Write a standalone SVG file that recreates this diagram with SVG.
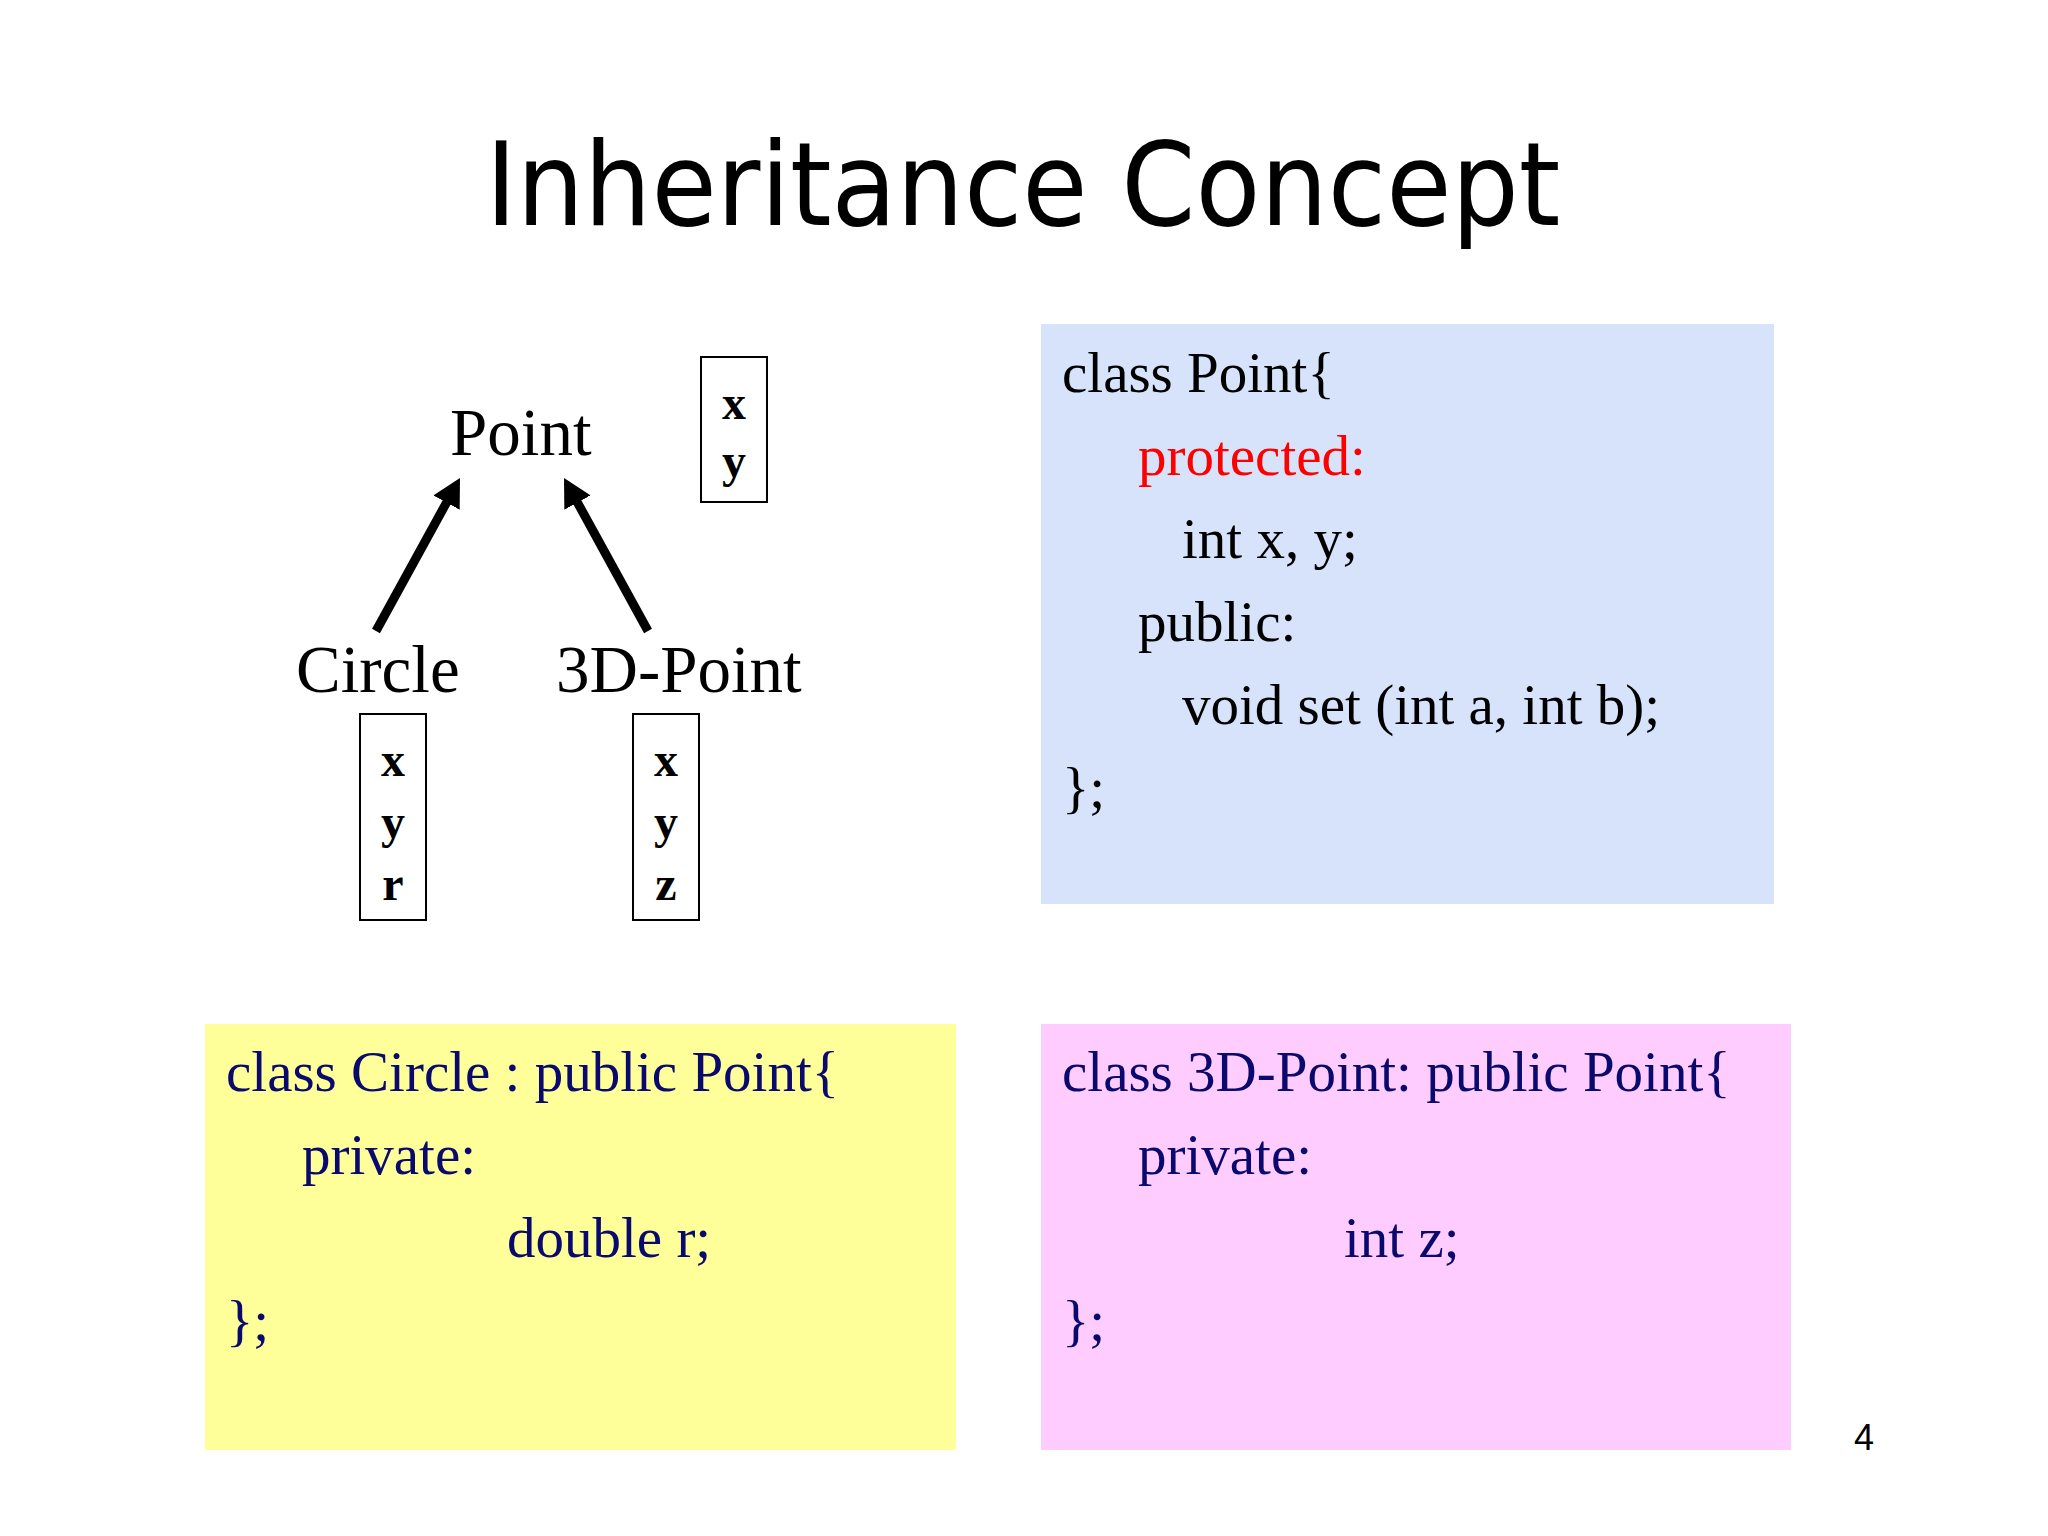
<svg xmlns="http://www.w3.org/2000/svg" width="2048" height="1536" viewBox="0 0 2048 1536">
<style>
.title{font-family:"Comic Sans MS","DejaVu Sans",sans-serif;font-size:116px;fill:#000}
.lbl{font-family:"Liberation Serif","Times New Roman",serif;font-size:67px;fill:#000}
.var{font-family:"Liberation Serif","Times New Roman",serif;font-size:48px;font-weight:bold;fill:#000;text-anchor:middle}
.code{font-family:"Liberation Serif","Times New Roman",serif;font-size:57px}
.blk{fill:#000}
.red{fill:#FF0000}
.navy{fill:#0A0A6E}
.vbox{fill:#fff;stroke:#000;stroke-width:2}
.conn{stroke:#000;stroke-width:9;fill:none}
.pg{font-family:"Liberation Sans",Arial,sans-serif;font-size:36px;fill:#000;text-anchor:middle}
</style>
<defs>
<marker id="ah" viewBox="0 0 28 30" refX="6" refY="15" markerWidth="28" markerHeight="30" markerUnits="userSpaceOnUse" orient="auto">
<path d="M0,0 L28,15 L0,30 z" fill="#000"/>
</marker>
</defs>
<rect width="2048" height="1536" fill="#fff"/>
<text class="title" x="1023" y="225" text-anchor="middle" textLength="1075" lengthAdjust="spacingAndGlyphs">Inheritance Concept</text>

<g id="node-point">
<text class="lbl" x="450" y="455">Point</text>
<rect class="vbox" x="701" y="357" width="66" height="145"/>
<text class="var" x="734" y="419">x</text>
<text class="var" x="734" y="477">y</text>
</g>

<g id="node-circle">
<text class="lbl" x="296" y="692">Circle</text>
<rect class="vbox" x="360" y="714" width="66" height="206"/>
<text class="var" x="393" y="776">x</text>
<text class="var" x="393" y="838">y</text>
<text class="var" x="393" y="900">r</text>
</g>

<g id="node-3dpoint">
<text class="lbl" x="556" y="692">3D-Point</text>
<rect class="vbox" x="633" y="714" width="66" height="206"/>
<text class="var" x="666" y="776">x</text>
<text class="var" x="666" y="838">y</text>
<text class="var" x="666" y="900">z</text>
</g>

<g id="connectors">
<line class="conn" x1="376" y1="631" x2="449.4" y2="497.3" marker-end="url(#ah)"/>
<line class="conn" x1="648" y1="631" x2="574.6" y2="497.3" marker-end="url(#ah)"/>
</g>

<g id="code-point">
<rect x="1041" y="324" width="733" height="580" fill="#D6E3FB"/>
<text class="code blk" x="1062" y="392">class Point{</text>
<text class="code red" x="1138" y="475">protected:</text>
<text class="code blk" x="1182" y="558">int x, y;</text>
<text class="code blk" x="1138" y="641">public:</text>
<text class="code blk" x="1182" y="724">void set (int a, int b);</text>
<text class="code blk" x="1062" y="807">};</text>
</g>

<g id="code-circle">
<rect x="205" y="1024" width="751" height="426" fill="#FFFF99"/>
<text class="code navy" x="226" y="1091">class Circle : public Point{</text>
<text class="code navy" x="302" y="1174">private:</text>
<text class="code navy" x="507" y="1257">double r;</text>
<text class="code navy" x="226" y="1340">};</text>
</g>

<g id="code-3dpoint">
<rect x="1041" y="1024" width="750" height="426" fill="#FFCCFF"/>
<text class="code navy" x="1062" y="1091">class 3D-Point: public Point{</text>
<text class="code navy" x="1138" y="1174">private:</text>
<text class="code navy" x="1344" y="1257">int z;</text>
<text class="code navy" x="1062" y="1340">};</text>
</g>

<text class="pg" x="1864" y="1450">4</text>
</svg>
